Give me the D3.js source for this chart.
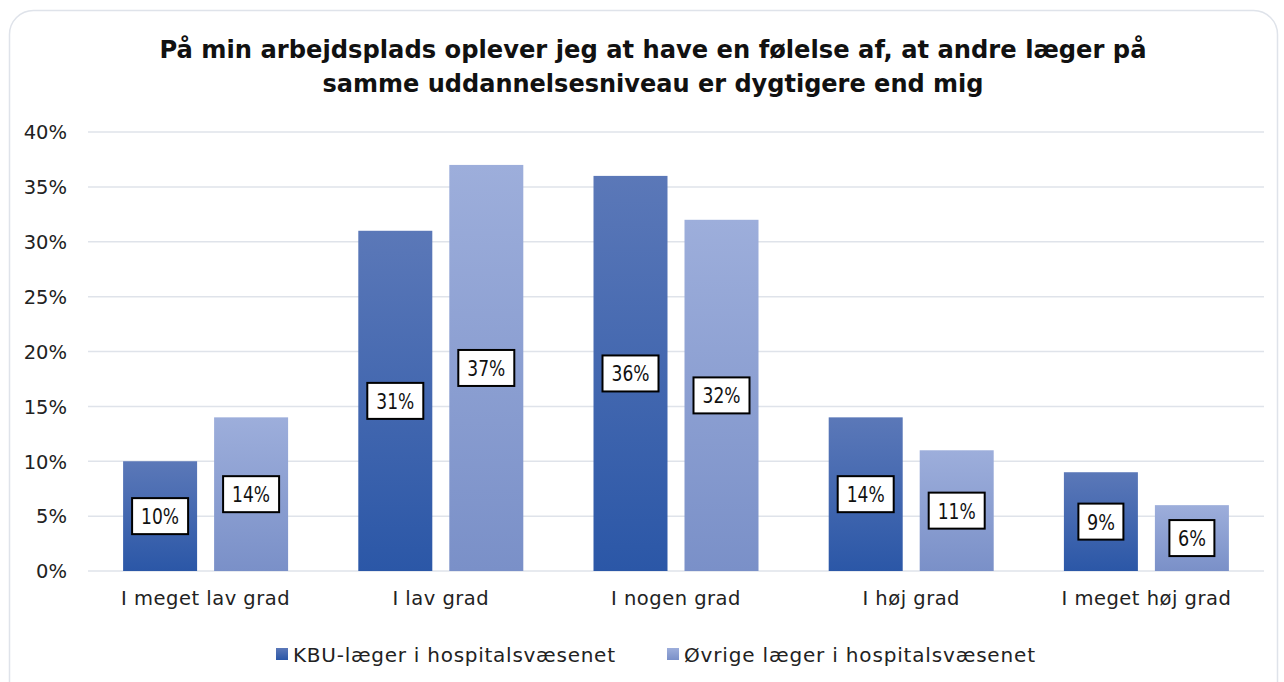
<!DOCTYPE html>
<html><head><meta charset="utf-8">
<script src="https://cdn.jsdelivr.net/npm/d3@7"></script>
<style>html,body{margin:0;padding:0;background:#fff;}svg{display:block;}</style>
</head><body>
<script>
const categories = ["I meget lav grad","I lav grad","I nogen grad","I høj grad","I meget høj grad"];
const seriesNames = ["KBU-læger i hospitalsvæsenet","Øvrige læger i hospitalsvæsenet"];
const kbuValues = [0.10,0.31,0.36,0.14,0.09];
const ovrigeValues = [0.14,0.37,0.32,0.11,0.06];
const yTicks = [0,0.05,0.10,0.15,0.20,0.25,0.30,0.35,0.40];
const titleLines = ["På min arbejdsplads oplever jeg at have en følelse af, at andre læger på","samme uddannelsesniveau er dygtigere end mig"];

const W=1284,H=682;
const font = "'DejaVu Sans', sans-serif";
const svg = d3.select("body").append("svg").attr("width",W).attr("height",H);
const defs = svg.append("defs");
const grads = [["g0","#5b78b8","#2b57a7"],["g1","#9daedb","#7a90c8"]];
grads.forEach(([id,c1,c2])=>{
  const g=defs.append("linearGradient").attr("id",id).attr("x1",0).attr("y1",0).attr("x2",0).attr("y2",1);
  g.append("stop").attr("offset","0%").attr("stop-color",c1);
  g.append("stop").attr("offset","100%").attr("stop-color",c2);
});

svg.append("rect").attr("x",9.5).attr("y",10.5).attr("width",1268).attr("height",700).attr("rx",24)
  .attr("fill","#fff").attr("stroke","#dfe3ea").attr("stroke-width",1.5);

// title
const tw=[987,661];
titleLines.forEach((t,i)=>{
  svg.append("text").attr("x",653).attr("y",58+i*34).attr("text-anchor","middle")
    .attr("font-family",font).attr("font-weight","bold").attr("font-size",24).attr("fill","#111")
    .attr("textLength",tw[i]).attr("lengthAdjust","spacingAndGlyphs").text(t);
});

const x0=88,x1=1264;
const x = d3.scaleBand().domain(categories).range([x0,x1]);
const xs = d3.scaleBand().domain(seriesNames).range([0,165]).paddingInner(17/91);
const y = d3.scaleLinear().domain([0,0.4]).range([571,132]);

// grid
svg.append("g").selectAll("line").data(yTicks).join("line")
  .attr("x1",x0).attr("x2",x1).attr("y1",d=>y(d)).attr("y2",d=>y(d))
  .attr("stroke","#dfe3ea").attr("stroke-width",1.5);

// y axis labels
const yAxis = d3.axisLeft(y).tickValues(yTicks).tickFormat(d3.format(".0%")).tickSize(0).tickPadding(0);
const ya = svg.append("g").attr("transform","translate(67,0)").call(yAxis);
ya.select(".domain").remove();
ya.selectAll("text").attr("font-family",font).attr("font-size",19.5).attr("fill","#222").attr("dy","0.35em");

// x axis labels
const xAxis = d3.axisBottom(x).tickSize(0).tickPadding(0);
const xa = svg.append("g").attr("transform","translate(0,590)").call(xAxis);
xa.select(".domain").remove();
xa.selectAll("text").attr("font-family",font).attr("font-size",19.5).attr("letter-spacing","0.5px")
  .attr("fill","#222").attr("dy","0.75em");

const data = categories.map((c,i)=>({cat:c, vals:[kbuValues[i],ovrigeValues[i]]}));
const off = (x.bandwidth()-165)/2;
const groups = svg.append("g").selectAll("g").data(data).join("g")
  .attr("transform",d=>`translate(${x(d.cat)+off},0)`);
const bars = groups.selectAll("g.bar").data(d=>d.vals.map((v,j)=>({v,s:seriesNames[j],j}))).join("g").attr("class","bar");
bars.append("rect").attr("x",d=>xs(d.s)).attr("width",xs.bandwidth())
  .attr("y",d=>y(d.v)).attr("height",d=>y(0)-y(d.v)).attr("fill",d=>`url(#g${d.j})`);
bars.each(function(d){
  const g=d3.select(this);
  const cx=xs(d.s)+xs.bandwidth()/2, cy=(y(d.v)+y(0))/2;
  const label=d3.format(".0%")(d.v);
  const bw = label.length===2?45:56, bh=36;
  g.append("rect").attr("x",cx-bw/2).attr("y",cy-bh/2).attr("width",bw).attr("height",bh)
    .attr("fill","#fff").attr("stroke","#000").attr("stroke-width",2);
  g.append("text").attr("x",cx).attr("y",cy).attr("dy","0.36em").attr("text-anchor","middle")
    .attr("font-family",font).attr("font-size",22).attr("fill","#111")
    .attr("textLength",label.length===2?28:38).attr("lengthAdjust","spacingAndGlyphs").text(label);
});

// legend
const legX=[276,667];
const legW=[322,351];
seriesNames.forEach((s,i)=>{
  svg.append("rect").attr("x",legX[i]).attr("y",648).attr("width",12).attr("height",12).attr("fill",`url(#g${i})`);
  svg.append("text").attr("x",legX[i]+17).attr("y",655).attr("dy","0.35em")
    .attr("font-family",font).attr("font-size",20).attr("fill","#222")
    .attr("textLength",legW[i]).attr("lengthAdjust","spacing").text(s);
});
</script>
</body></html>
